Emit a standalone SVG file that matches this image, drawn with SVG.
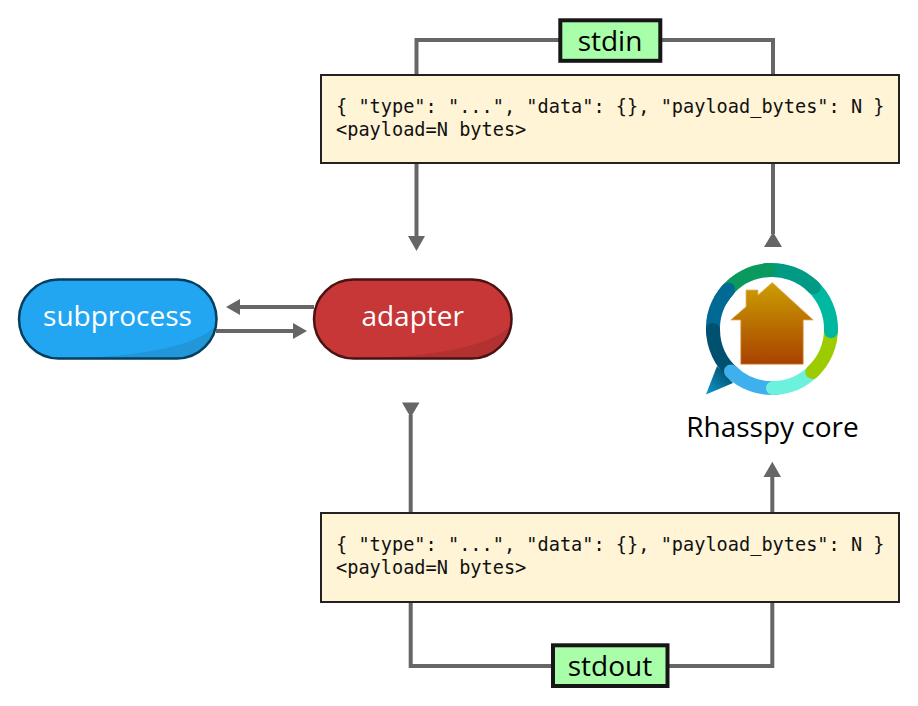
<svg xmlns="http://www.w3.org/2000/svg" width="918" height="706" viewBox="0 0 918 706">
<style>
.c{fill:none;stroke:#666;stroke-width:4}
.h{fill:#666;stroke:none}
.box{fill:#fff4d6;stroke:#222;stroke-width:2}
.tag{fill:#a9ffa9;stroke:#161616;stroke-width:4}
.t{font-family:"Open Sans","Noto Sans",sans-serif;font-size:28px;text-anchor:middle}
.m{font-family:"DejaVu Sans Mono",monospace;font-size:18.6px;fill:#111}
.seg{fill:none;stroke-width:14;stroke-linecap:round}
</style>
<defs>
<linearGradient id="house" x1="0" y1="0" x2="0" y2="1"><stop offset="0" stop-color="#cc9e00"/><stop offset="1" stop-color="#a84200"/></linearGradient>
<linearGradient id="tail" x1="0" y1="1" x2="1" y2="0"><stop offset="0" stop-color="#0f9ad0"/><stop offset="1" stop-color="#00405c"/></linearGradient>
<clipPath id="cs"><rect x="19" y="279.500" width="197.500" height="79" rx="39.500"/></clipPath>
<clipPath id="ca"><rect x="314" y="279.500" width="197.500" height="79" rx="39.500"/></clipPath>
</defs>
<g id="connectors">
<path class="c" d="M416.500 75V40H560M660 40H773V75"/>
<path class="c" d="M416.500 163V237"/><path class="h" d="M408 236H425L416.500 251Z"/>
<path class="c" d="M773 163V234"/><path class="h" d="M764 247H782L773 232Z"/>
<path class="c" d="M314 307H240"/><path class="h" d="M240 299V315L226 307Z"/>
<path class="c" d="M216 331H293"/><path class="h" d="M293 323V339L307 331Z"/>
<path class="c" d="M410.700 513V415"/><path class="h" d="M402 402.500H419.500L410.700 417.500Z"/>
<path class="c" d="M772.300 513V476"/><path class="h" d="M763.500 477H781L772.300 461.700Z"/>
<path class="c" d="M410.700 602V666H553M667 666H772.300V602"/>
</g>
<g id="subprocess">
<rect x="19" y="279.500" width="197.500" height="79" rx="39.500" fill="#23a6f2"/>
<path clip-path="url(#cs)" d="M72 358.500C135 356 195 348 216.500 325V358.500Z" fill="#2196d8"/>
<rect x="19" y="279.500" width="197.500" height="79" rx="39.500" fill="none" stroke="#043f5f" stroke-width="2.500"/>
<text class="t" x="117.500" y="326" fill="#fff">subprocess</text>
</g>
<g id="adapter">
<rect x="314" y="279.500" width="197.500" height="79" rx="39.500" fill="#c73737"/>
<path clip-path="url(#ca)" d="M367 358.500C430 356 490 348 511.500 325V358.500Z" fill="#b23131"/>
<rect x="314" y="279.500" width="197.500" height="79" rx="39.500" fill="none" stroke="#4a1212" stroke-width="2.500"/>
<text class="t" x="412.700" y="326" fill="#fff">adapter</text>
</g>
<g id="message-in">
<rect class="box" x="321" y="75" width="578" height="88"/>
<text class="m" x="336" y="113">{ "type": "...", "data": {}, "payload_bytes": N }</text>
<text class="m" x="336" y="136">&lt;payload=N bytes&gt;</text>
</g>
<g id="message-out">
<rect class="box" x="321" y="513" width="578" height="89"/>
<text class="m" x="336" y="551">{ "type": "...", "data": {}, "payload_bytes": N }</text>
<text class="m" x="336" y="574">&lt;payload=N bytes&gt;</text>
</g>
<g id="stdin">
<rect class="tag" x="560.300" y="20.300" width="100" height="40.500"/>
<text class="t" x="610" y="51" fill="#000">stdin</text>
</g>
<g id="stdout">
<rect class="tag" x="553" y="645.300" width="114.500" height="40.700"/>
<text class="t" x="610" y="676" fill="#000">stdout</text>
</g>
<g id="rhasspy-core">
<path d="M706 394.500L717 366L733 383Z" fill="url(#tail)"/>
<path class="seg" stroke="#006a94" d="M713.100 333.100A59 59 0 0 1 728.200 289.500"/>
<path class="seg" stroke="#005070" d="M733.300 373.500A59 59 0 0 1 713 330"/>
<path class="seg" stroke="#3fb0ee" d="M776.100 387.900A59 59 0 0 1 731 371.400"/>
<path class="seg" stroke="#6cf2dc" d="M814.400 370A59 59 0 0 1 773 388"/>
<path class="seg" stroke="#9ccc00" d="M831 328A59 59 0 0 1 812.200 372.100"/>
<path class="seg" stroke="#00b8a0" d="M811.500 285.200A59 59 0 0 1 831 331.100"/>
<path class="seg" stroke="#009a85" d="M765.800 270.300A59 59 0 0 1 813.700 287.300"/>
<path class="seg" stroke="#0a9a5f" d="M726.100 291.900A59 59 0 0 1 768.900 270.100"/>
<path class="seg" stroke="#006a94" d="M720.900 299.500A59 59 0 0 1 728.200 289.500"/>
<path d="M772.300 282.500L813.300 320H803.300V364.300H740.700V320H730.700L746 306.700V290H758V295Z" fill="url(#house)" stroke="#e8b070" stroke-width=".8"/>
<text class="t" x="772.500" y="437" fill="#000">Rhasspy core</text>
</g>
</svg>
